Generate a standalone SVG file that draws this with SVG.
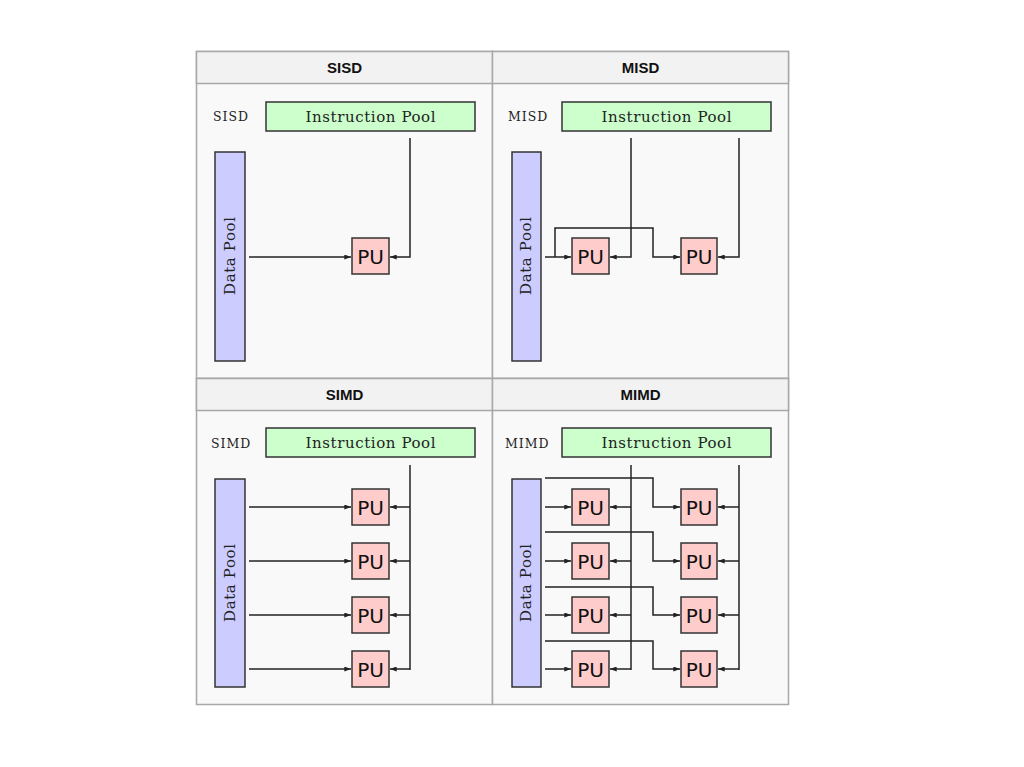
<svg xmlns="http://www.w3.org/2000/svg" width="1024" height="767" viewBox="0 0 1024 767">
<defs>
<style>
.bg{fill:#ffffff}
.hdr{fill:#f2f2f2;stroke:#a8a8a8;stroke-width:1.5}
.cell{fill:#f9f9f9;stroke:#a8a8a8;stroke-width:1.5}
.ht{font-family:"Liberation Sans",Arial,sans-serif;font-weight:bold;font-size:15px;fill:#111;text-anchor:middle}
.ip{fill:#ccffcc;stroke:#333;stroke-width:1.5}
.dp{fill:#ccccff;stroke:#333;stroke-width:1.5}
.pu{fill:#ffcccc;stroke:#333;stroke-width:1.5}
.ipt{font-family:"DejaVu Serif","Liberation Serif",serif;font-size:15px;fill:#222;text-anchor:middle}
.lbl{font-family:"DejaVu Serif","Liberation Serif",serif;font-size:12.5px;fill:#222;letter-spacing:1px}
.dpt{font-family:"DejaVu Serif","Liberation Serif",serif;font-size:15px;fill:#222;text-anchor:middle}
.put{font-family:"DejaVu Sans","Liberation Sans",sans-serif;font-size:20px;fill:#111;text-anchor:middle}
.ln{fill:none;stroke:#222;stroke-width:1.5}
.ar{fill:none;stroke:#222;stroke-width:1.5;marker-end:url(#ah)}
</style>
<marker id="ah" viewBox="0 0 8 6" refX="8" refY="3" markerWidth="7" markerHeight="5" markerUnits="userSpaceOnUse" orient="auto">
<path d="M0,0 L8,3 L0,6 Z" fill="#222"/>
</marker>
</defs>
<rect class="bg" x="0" y="0" width="1024" height="767"/>

<g id="table">
<rect class="cell" x="196.5" y="51.5" width="296" height="327"/>
<rect class="cell" x="492.5" y="51.5" width="296" height="327"/>
<rect class="cell" x="196.5" y="378.5" width="296" height="326"/>
<rect class="cell" x="492.5" y="378.5" width="296" height="326"/>
<rect class="hdr" x="196.5" y="51.5" width="296" height="32"/>
<rect class="hdr" x="492.5" y="51.5" width="296" height="32"/>
<rect class="hdr" x="196.5" y="378.5" width="296" height="32"/>
<rect class="hdr" x="492.5" y="378.5" width="296" height="32"/>
<text class="ht" x="344.5" y="73">SISD</text>
<text class="ht" x="640.5" y="73">MISD</text>
<text class="ht" x="344.5" y="400">SIMD</text>
<text class="ht" x="640.5" y="400">MIMD</text>
</g>

<!-- SISD -->
<g id="sisd-label"><text class="lbl" x="213" y="121">SISD</text></g>
<g id="sisd-ip"><rect class="ip" x="266" y="102" width="209" height="29"/><text class="ipt" x="370.5" y="122" textLength="130">Instruction Pool</text></g>
<g id="sisd-dp"><rect class="dp" x="215" y="152" width="30" height="209"/><text class="dpt" transform="translate(235,256) rotate(-90)" textLength="78">Data Pool</text></g>
<g id="sisd-pu"><rect class="pu" x="352" y="238" width="37" height="36"/><text class="put" x="370.5" y="263.5">PU</text></g>

<!-- MISD -->
<g id="misd-label"><text class="lbl" x="508" y="121">MISD</text></g>
<g id="misd-ip"><rect class="ip" x="562" y="102" width="209" height="29"/><text class="ipt" x="666.5" y="122" textLength="130">Instruction Pool</text></g>
<g id="misd-dp"><rect class="dp" x="512" y="152" width="29" height="209"/><text class="dpt" transform="translate(531,256) rotate(-90)" textLength="78">Data Pool</text></g>
<g id="misd-pu1"><rect class="pu" x="572" y="238" width="37" height="36"/><text class="put" x="590.5" y="263.5">PU</text></g>
<g id="misd-pu2"><rect class="pu" x="681" y="238" width="36" height="36"/><text class="put" x="699" y="263.5">PU</text></g>

<!-- SIMD -->
<g id="simd-label"><text class="lbl" x="211" y="448">SIMD</text></g>
<g id="simd-ip"><rect class="ip" x="266" y="428" width="209" height="29"/><text class="ipt" x="370.5" y="448" textLength="130">Instruction Pool</text></g>
<g id="simd-dp"><rect class="dp" x="215" y="479" width="30" height="208"/><text class="dpt" transform="translate(235,583) rotate(-90)" textLength="78">Data Pool</text></g>
<g id="simd-pu1"><rect class="pu" x="352" y="489" width="37" height="36"/><text class="put" x="370.5" y="514.5">PU</text></g>
<g id="simd-pu2"><rect class="pu" x="352" y="543" width="37" height="36"/><text class="put" x="370.5" y="568.5">PU</text></g>
<g id="simd-pu3"><rect class="pu" x="352" y="597" width="37" height="36"/><text class="put" x="370.5" y="622.5">PU</text></g>
<g id="simd-pu4"><rect class="pu" x="352" y="651" width="37" height="36"/><text class="put" x="370.5" y="676.5">PU</text></g>

<!-- MIMD -->
<g id="mimd-label"><text class="lbl" x="505" y="448">MIMD</text></g>
<g id="mimd-ip"><rect class="ip" x="562" y="428" width="209" height="29"/><text class="ipt" x="666.5" y="448" textLength="130">Instruction Pool</text></g>
<g id="mimd-dp"><rect class="dp" x="512" y="479" width="29" height="208"/><text class="dpt" transform="translate(531,583) rotate(-90)" textLength="78">Data Pool</text></g>
<g id="mimd-pu1"><rect class="pu" x="572" y="489" width="37" height="36"/><text class="put" x="590.5" y="514.5">PU</text></g>
<g id="mimd-pu2"><rect class="pu" x="572" y="543" width="37" height="36"/><text class="put" x="590.5" y="568.5">PU</text></g>
<g id="mimd-pu3"><rect class="pu" x="572" y="597" width="37" height="36"/><text class="put" x="590.5" y="622.5">PU</text></g>
<g id="mimd-pu4"><rect class="pu" x="572" y="651" width="37" height="36"/><text class="put" x="590.5" y="676.5">PU</text></g>
<g id="mimd-pu5"><rect class="pu" x="681" y="489" width="36" height="36"/><text class="put" x="699" y="514.5">PU</text></g>
<g id="mimd-pu6"><rect class="pu" x="681" y="543" width="36" height="36"/><text class="put" x="699" y="568.5">PU</text></g>
<g id="mimd-pu7"><rect class="pu" x="681" y="597" width="36" height="36"/><text class="put" x="699" y="622.5">PU</text></g>
<g id="mimd-pu8"><rect class="pu" x="681" y="651" width="36" height="36"/><text class="put" x="699" y="676.5">PU</text></g>

<g id="connectors">
<!-- SISD -->
<path class="ar" d="M249,257 H351"/>
<path class="ar" d="M410,138 V257 H390"/>
<!-- MISD -->
<path class="ar" d="M545,257 H571"/>
<path class="ar" d="M555,257 V228 H653 V257 H680"/>
<path class="ar" d="M631,138 V257 H610"/>
<path class="ar" d="M739,138 V257 H718"/>
<!-- SIMD -->
<path class="ln" d="M410,465 V670"/>
<path class="ar" d="M249,507 H351"/>
<path class="ar" d="M249,561 H351"/>
<path class="ar" d="M249,615 H351"/>
<path class="ar" d="M249,669 H351"/>
<path class="ar" d="M410,507 H390"/>
<path class="ar" d="M410,561 H390"/>
<path class="ar" d="M410,615 H390"/>
<path class="ar" d="M410,669 H390"/>
<!-- MIMD -->
<path class="ln" d="M631,465 V670"/>
<path class="ln" d="M739,465 V670"/>
<path class="ar" d="M545,507 H571"/>
<path class="ar" d="M545,561 H571"/>
<path class="ar" d="M545,615 H571"/>
<path class="ar" d="M545,669 H571"/>
<path class="ar" d="M545,478 H653 V507 H680"/>
<path class="ar" d="M545,532 H653 V561 H680"/>
<path class="ar" d="M545,587 H653 V615 H680"/>
<path class="ar" d="M545,641 H653 V669 H680"/>
<path class="ar" d="M631,507 H610"/>
<path class="ar" d="M631,561 H610"/>
<path class="ar" d="M631,615 H610"/>
<path class="ar" d="M631,669 H610"/>
<path class="ar" d="M739,507 H718"/>
<path class="ar" d="M739,561 H718"/>
<path class="ar" d="M739,615 H718"/>
<path class="ar" d="M739,669 H718"/>
</g>
</svg>
